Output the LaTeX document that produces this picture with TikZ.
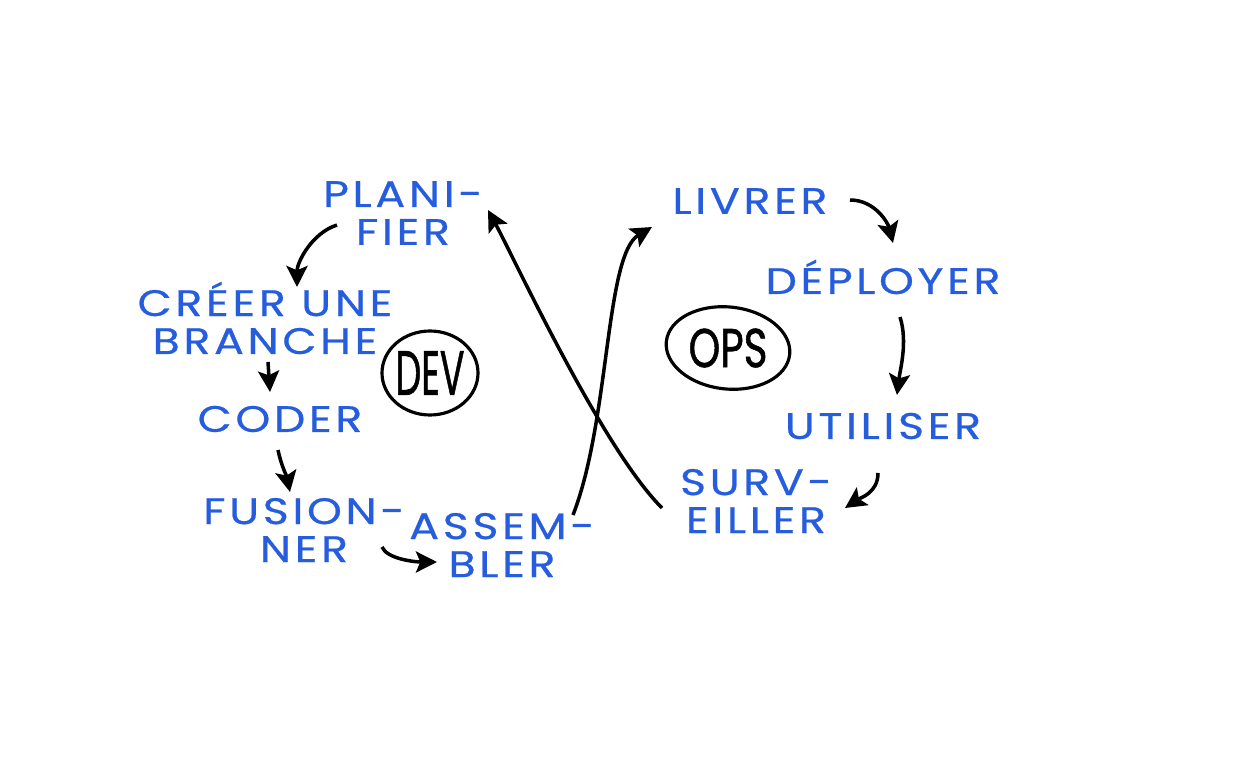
\documentclass[tikz,border=0pt]{standalone}
\usepackage{fontspec}
\usepackage{graphicx}
\newfontfamily\hand{Poppins}[FakeStretch=1.2, LetterSpace=10, FakeBold=0.6]
\newfontfamily\badgefont{Poppins}[FakeBold=1.2]
\usetikzlibrary{arrows.meta}
\definecolor{dblue}{RGB}{37,93,222}
\tikzset{
  lbl/.style={text=dblue, font=\hand\fontsize{21}{21.6}\selectfont, align=center, inner sep=0pt},
  badge/.style={text=black, font=\badgefont\fontsize{23}{23}\selectfont, inner sep=0pt},
  flow/.style={line width=2pt, draw=black, -{Stealth[length=12pt,width=12pt,inset=2.5pt]}},
}
\begin{document}
\begin{tikzpicture}[x=0.02cm,y=-0.02cm]
\useasboundingbox (0,0) rectangle (1245,757);
% labels
\node[lbl] (plan) at (403,213) {PLANI-\\FIER};
\node[lbl] (branch) at (265,318) {CRÉER UNE\\BRANCHE};
\node[lbl] (coder) at (280,419) {CODER};
\node[lbl] (fusion) at (304,530) {FUSION-\\NER};
\node[lbl] (assem) at (502,545) {ASSEM-\\BLER};
\node[lbl] (livrer) at (750,201) {LIVRER};
\node[lbl] (deploy) at (883,277) {DÉPLOYER};
\node[lbl] (utiliser) at (883,426) {UTILISER};
\node[lbl] (surv) at (756,501) {SURV-\\EILLER};
% badges
\node[badge] (dev) at (430,373) {\scalebox{0.9}[1.55]{DEV}};
\draw[line width=1.8pt] (dev) ellipse [x radius=48, y radius=42];
\node[badge] (ops) at (728,348) {\scalebox{1.0}[1.35]{OPS}};
\draw[line width=1.8pt, rotate around={-6:(ops)}] (ops) ellipse [x radius=62, y radius=41];
% connectors
\draw[flow] ([shift={(-66,12)}]plan.center) .. controls +(-25,8) and +(0,-25) .. ([shift={(32,-31)}]branch.center);
\draw[flow] ([shift={(3,44)}]branch.center) -- ([shift={(-10,-27)}]coder.center);
\draw[flow] ([shift={(-2,31)}]coder.center) .. controls +(3,15) and +(-3,-15) .. ([shift={(-14,-38)}]fusion.center);
\draw[flow] ([shift={(78,17)}]fusion.center) .. controls +(5,12) and +(-22,0) .. ([shift={(-65,17)}]assem.center);
\draw[flow] ([shift={(71,-30)}]assem.center) .. controls +(37,-95) and +(-47,28) .. ([shift={(-98,26)}]livrer.center);
\draw[flow] ([shift={(-94,7)}]surv.center) .. controls +(-60,-60) and +(27,50) .. ([shift={(85,-3)}]plan.center);
\draw[flow] ([shift={(100,-1)}]livrer.center) .. controls +(25,0) and +(-5,-20) .. ([shift={(10,-34)}]deploy.center);
\draw[flow] ([shift={(17,40)}]deploy.center) .. controls +(8,25) and +(3,-25) .. ([shift={(14,-31)}]utiliser.center);
\draw[flow] ([shift={(-5,47)}]utiliser.center) .. controls +(0,20) and +(15,-10) .. ([shift={(89,7)}]surv.center);
\end{tikzpicture}
\end{document}
